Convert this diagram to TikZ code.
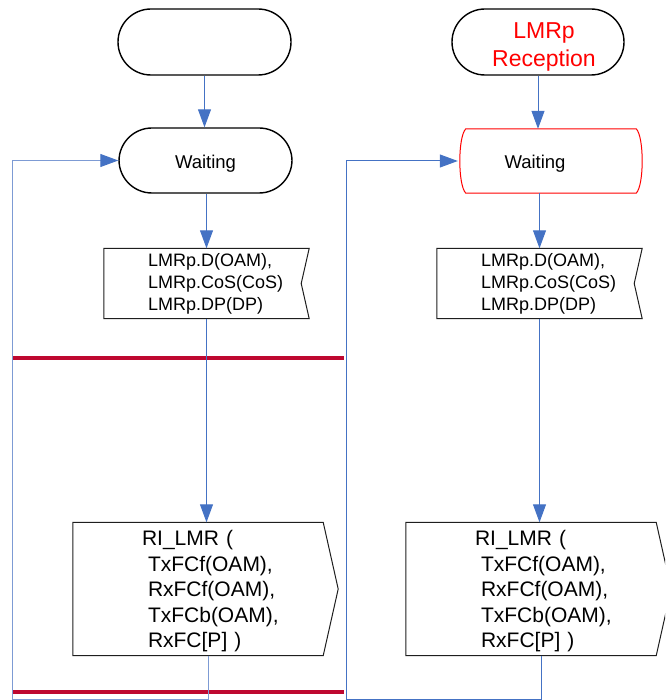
\documentclass[tikz,border=0pt]{standalone}
\usepackage{fontspec}
\setmainfont{Liberation Sans}
\usetikzlibrary{arrows.meta,calc}
\definecolor{lnblue}{RGB}{68,114,196}
\definecolor{lnlight}{RGB}{125,155,212}
\definecolor{sepred}{RGB}{190,8,48}
\definecolor{pured}{RGB}{255,0,0}
\definecolor{boxgray}{RGB}{30,30,30}
\newcommand\indS{\hspace*{44pt}}
\newcommand\indB{\hspace*{69pt}}
\newcommand\indC{\hspace*{75pt}}
\begin{document}
\begin{tikzpicture}[x=1pt,y=-1pt,
  term/.style={draw=black, line width=1.4pt, rounded corners=33pt,
    minimum width=173pt, minimum height=66pt, inner sep=0pt},
  waitfont/.style={font=\fontsize{18.5}{22}\selectfont},
  holder/.style={inner sep=0pt, text width=#1, align=left},
  smalltxt/.style={font=\fontsize{18}{22}\selectfont},
  bigtxt/.style={font=\fontsize{21}{25.5}\selectfont},
  boxline/.style={draw=boxgray, line width=1pt},
  arr/.style={draw=lnblue, line width=1pt, -{Triangle[length=18pt,width=13pt]}},
  larr/.style={draw=lnlight, line width=1pt, -{Triangle[length=18pt,width=13pt,color=lnblue]}},
  sep/.style={draw=sepred, line width=3.5pt}
]
\useasboundingbox (0,0) rectangle (665,700);
\clip (0,0) rectangle (665,700);

% ---------- left column ----------
\node[term] (t1) at (204.5,42) {};
\node[term, minimum height=65pt,
  label={[waitfont, yshift=-3pt]center:Waiting}] (w1) at (205.5,160.5) {};
\node[holder=205pt, minimum height=70pt, smalltxt] (in1) at (206.5,283.5)
  {\indS LMRp.D(OAM),\\\indS LMRp.CoS(CoS)\\\indS LMRp.DP(DP)};
\draw[boxline] (in1.north west) -- (in1.north east) -- ([xshift=-8pt]in1.east)
  -- (in1.south east) -- (in1.south west) -- cycle;
\node[holder=250pt, minimum height=133pt, bigtxt] (out1) at (198,589)
  {\indB RI\_LMR (\\\indC TxFCf(OAM),\\\indC RxFCf(OAM),\\\indC TxFCb(OAM),\\\indC RxFC[P] )\\[-25.5pt]\mbox{}};
\draw[boxline] (out1.north west) -- (out1.north east) -- ([xshift=15pt]out1.east)
  -- (out1.south east) -- (out1.south west) -- cycle;

% ---------- right column ----------
\node[term, minimum width=172pt,
  label={[text=pured, align=center, font=\fontsize{23}{28}\selectfont,
          xshift=6pt, yshift=-5pt]center:LMRp\\Reception}] (t2) at (538,42) {};
\node[inner sep=0pt, minimum width=180pt, minimum height=64pt,
  label={[waitfont, xshift=-16pt, yshift=-3pt]center:Waiting}] (w2) at (551,161) {};
\draw[draw=pured, line width=1pt]
  ([xshift=5pt]w2.north west) -- ([xshift=-5pt]w2.north east)
  .. controls ([xshift=3pt,yshift=-8pt]w2.north east) and ([xshift=3pt,yshift=8pt]w2.south east) .. ([xshift=-5pt]w2.south east)
  -- ([xshift=5pt]w2.south west)
  .. controls ([xshift=-3pt,yshift=8pt]w2.south west) and ([xshift=-3pt,yshift=-8pt]w2.north west) .. ([xshift=5pt]w2.north west) -- cycle;
\node[holder=205pt, minimum height=70pt, smalltxt] (in2) at (539.5,283.5)
  {\indS LMRp.D(OAM),\\\indS LMRp.CoS(CoS)\\\indS LMRp.DP(DP)};
\draw[boxline] (in2.north west) -- (in2.north east) -- ([xshift=-8pt]in2.east)
  -- (in2.south east) -- (in2.south west) -- cycle;
\node[holder=250pt, minimum height=133pt, bigtxt] (out2) at (531,589)
  {\indB RI\_LMR (\\\indC TxFCf(OAM),\\\indC RxFCf(OAM),\\\indC TxFCb(OAM),\\\indC RxFC[P] )\\[-25.5pt]\mbox{}};
\draw[boxline] (out2.north west) -- (out2.north east) -- ([xshift=15pt]out2.east)
  -- (out2.south east) -- (out2.south west) -- cycle;

% ---------- separators ----------
\coordinate (r1a) at (12,358);  \coordinate (r1b) at (344,358);
\coordinate (r2a) at (12,692);  \coordinate (r2b) at (344,692);
\draw[sep] (r1a) -- (r1b);
\draw[sep] (r2a) -- (r2b);

% ---------- loop corners ----------
\coordinate (b1) at (12,699);
\coordinate (b2) at (346,699);

% ---------- connectors ----------
\draw[arr] (t1.south) -- (t1.south |- w1.north);
\draw[arr] (in1.north |- w1.south) -- (in1.north);
\draw[arr] (in1.south) -- (in1.south |- out1.north);
\draw[larr] ([xshift=1.5pt]in1.south |- out1.south) |- (b1) |- (w1.west);

\draw[arr] (t2.south) -- (t2.south |- w2.north);
\draw[arr] (in2.north |- w2.south) -- (in2.north);
\draw[arr] (in2.south) -- (in2.south |- out2.north);
\draw[arr] ([xshift=1.5pt]in2.south |- out2.south) |- (b2) |- ([xshift=-3pt]w2.west);
\end{tikzpicture}
\end{document}
